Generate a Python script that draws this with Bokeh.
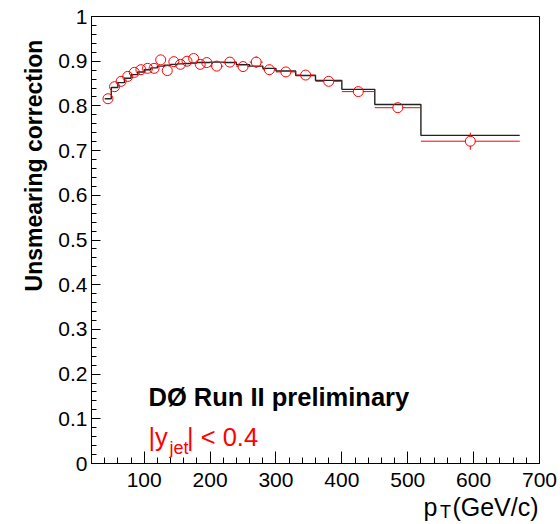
import json
from bokeh.plotting import figure
from bokeh.models import Range1d, FixedTicker, CustomJSTickFormatter, Label, LinearAxis
from bokeh.embed import file_html
from bokeh.resources import INLINE

# ---- data ----
bin_edges = [40, 50, 60, 70, 80, 90, 100, 110, 120, 130, 140, 150, 160, 170, 180,
             190, 200, 220, 240, 260, 280, 300, 330, 360, 400, 450, 520, 670]
data_values = [0.816, 0.843, 0.855, 0.866, 0.875, 0.881, 0.884, 0.884, 0.903, 0.879,
               0.899, 0.893, 0.900, 0.906, 0.893, 0.897, 0.889, 0.898, 0.888, 0.898,
               0.881, 0.876, 0.869, 0.855, 0.832, 0.796, 0.721]
data_errors = [0.003, 0.003, 0.003, 0.003, 0.004, 0.004, 0.004, 0.004, 0.005, 0.005,
               0.005, 0.005, 0.006, 0.006, 0.006, 0.006, 0.008, 0.009, 0.010, 0.013,
               0.011, 0.009, 0.008, 0.008, 0.008, 0.009, 0.019]
smooth_values = [0.816, 0.841, 0.852, 0.862, 0.870, 0.876, 0.881, 0.885, 0.889, 0.891,
                 0.893, 0.894, 0.895, 0.896, 0.897, 0.897, 0.898, 0.897, 0.892, 0.889,
                 0.884, 0.878, 0.868, 0.857, 0.837, 0.803, 0.734]
x_ticks = [100, 200, 300, 400, 500, 600, 700]
x_minor = [20, 40, 60, 80, 120, 140, 160, 180, 220, 240, 260, 280, 320, 340, 360, 380,
           420, 440, 460, 480, 520, 540, 560, 580, 620, 640, 660, 680]
y_ticks = [0.0, 0.1, 0.2, 0.3, 0.4, 0.5, 0.6, 0.7, 0.8, 0.9, 1.0]
y_minor = [k / 50 for k in range(51)]

y_title = "Unsmearing correction"
x_title_main = "p"
x_title_sub = "T"
x_title_unit = "(GeV/c)"
label_exp = "DØ Run II preliminary"
label_rap_a = "|y"
label_rap_sub = "jet"
label_rap_b = "| < 0.4"

X0, X1 = 20, 700
W, H = 560, 524
BL, BR, BT, BB = 91, 21, 16, 61
FONT = "Liberation Sans"

p = figure(width=W, height=H, x_range=Range1d(X0, X1), y_range=Range1d(0, 1),
           output_backend="svg", toolbar_location=None,
           min_border_left=BL, min_border_right=BR, min_border_top=BT, min_border_bottom=BB)
p.background_fill_color = "white"
p.border_fill_color = "white"
p.outline_line_color = "black"
p.outline_line_width = 1
p.xgrid.visible = False
p.ygrid.visible = False

for ax in (p.xaxis[0], p.yaxis[0]):
    ax.axis_line_color = "black"
    ax.major_tick_line_color = "black"
    ax.minor_tick_line_color = "black"
    ax.major_tick_out = 0
    ax.minor_tick_out = 0
    ax.major_label_text_font = FONT
    ax.major_label_text_font_size = "21px"
    ax.major_label_text_color = "black"

p.xaxis.ticker = FixedTicker(ticks=x_ticks, minor_ticks=x_minor)
p.xaxis.major_tick_in = 12
p.xaxis.minor_tick_in = 6
p.xaxis.major_label_standoff = 9

p.yaxis.ticker = FixedTicker(ticks=y_ticks, minor_ticks=y_minor)
p.yaxis.major_tick_in = 9
p.yaxis.minor_tick_in = 5
p.yaxis.major_label_standoff = 4
p.yaxis.formatter = CustomJSTickFormatter(
    code="return (Math.abs(tick) < 1e-9 || Math.abs(tick - 1) < 1e-9) ? tick.toFixed(0) : tick.toFixed(1);")

# ---- black smoothed histogram ----
sx, sy = [], []
for i, v in enumerate(smooth_values):
    sx += [bin_edges[i], bin_edges[i + 1]]
    sy += [v, v]
p.line(sx, sy, line_color="#222222", line_width=1.4)

# ---- red data points with error bars ----
fw = W - BL - BR
fh = H - BT - BB
r_px = 4.5
dx = r_px * (X1 - X0) / fw
dy = r_px / fh
centers = [(bin_edges[i] + bin_edges[i + 1]) / 2 for i in range(len(data_values))]
hx0, hx1, hy = [], [], []
vx, vy0, vy1 = [], [], []
for i, (c, v, e) in enumerate(zip(centers, data_values, data_errors)):
    lo, hi = bin_edges[i], bin_edges[i + 1]
    if c - dx > lo:
        hx0 += [lo, c + dx]
        hx1 += [c - dx, hi]
        hy += [v, v]
    if e > dy:
        vx += [c, c]
        vy0 += [v + dy, v - dy]
        vy1 += [v + e, v - e]
p.segment(x0=hx0, y0=hy, x1=hx1, y1=hy, line_color="red", line_width=1)
p.segment(x0=vx, y0=vy0, x1=vx, y1=vy1, line_color="red", line_width=1)
p.scatter(centers, data_values, marker="circle", size=2 * r_px + 1, fill_color=None,
          line_color="red", line_width=1)

# ---- texts inside the frame ----
def px2x(px):
    return X0 + (px - BL) * (X1 - X0) / fw

def py2y(py):
    return (BT + fh - py) / fh

def lab(text, px, py, size, color="black", style="normal", align="left"):
    p.add_layout(Label(x=px2x(px), y=py2y(py), text=text, text_font=FONT,
                       text_font_size=size, text_color=color, text_font_style=style,
                       text_align=align, text_baseline="alphabetic"))

lab(label_exp, 148, 396.5, "25.5px", style="bold")
lab(label_rap_a, 148, 436, "25.5px", color="red")
lab(label_rap_sub, 169, 447, "18px", color="red")
lab(label_rap_b, 186.5, 436, "25.5px", color="red")

# ---- axis titles, drawn as label-only axes outside the frame ----
def text_axis(ticks, code, size, style, standoff, orientation="horizontal"):
    ax = LinearAxis(ticker=FixedTicker(ticks=ticks, minor_ticks=[]),
                    formatter=CustomJSTickFormatter(code=code))
    ax.axis_line_color = None
    ax.major_tick_line_color = None
    ax.minor_tick_line_color = None
    ax.major_tick_in = 0
    ax.major_tick_out = 0
    ax.minor_tick_in = 0
    ax.minor_tick_out = 0
    ax.major_label_text_font = FONT
    ax.major_label_text_font_size = size
    ax.major_label_text_font_style = style
    ax.major_label_text_color = "black"
    ax.major_label_standoff = standoff
    ax.major_label_orientation = orientation
    return ax

# y title: centred at screen y = 165 px
yax = text_axis([py2y(165)], "return %s;" % json.dumps(y_title), "23px", "bold", 9, "vertical")
p.add_layout(yax, "left")

# x title pieces
t_center = px2x(445)
p_center = px2x(430)
u_center = px2x(495)
tax = text_axis([t_center], "return %s;" % json.dumps(x_title_sub), "18px", "normal", 12)
p.add_layout(tax, "below")
pax = text_axis([p_center, u_center],
                "return tick < %f ? %s : %s;" % ((p_center + u_center) / 2,
                                                  json.dumps(x_title_main), json.dumps(x_title_unit)),
                "25px", "normal", -32)
p.add_layout(pax, "below")

open("out.html", "w").write(file_html(p, INLINE))
